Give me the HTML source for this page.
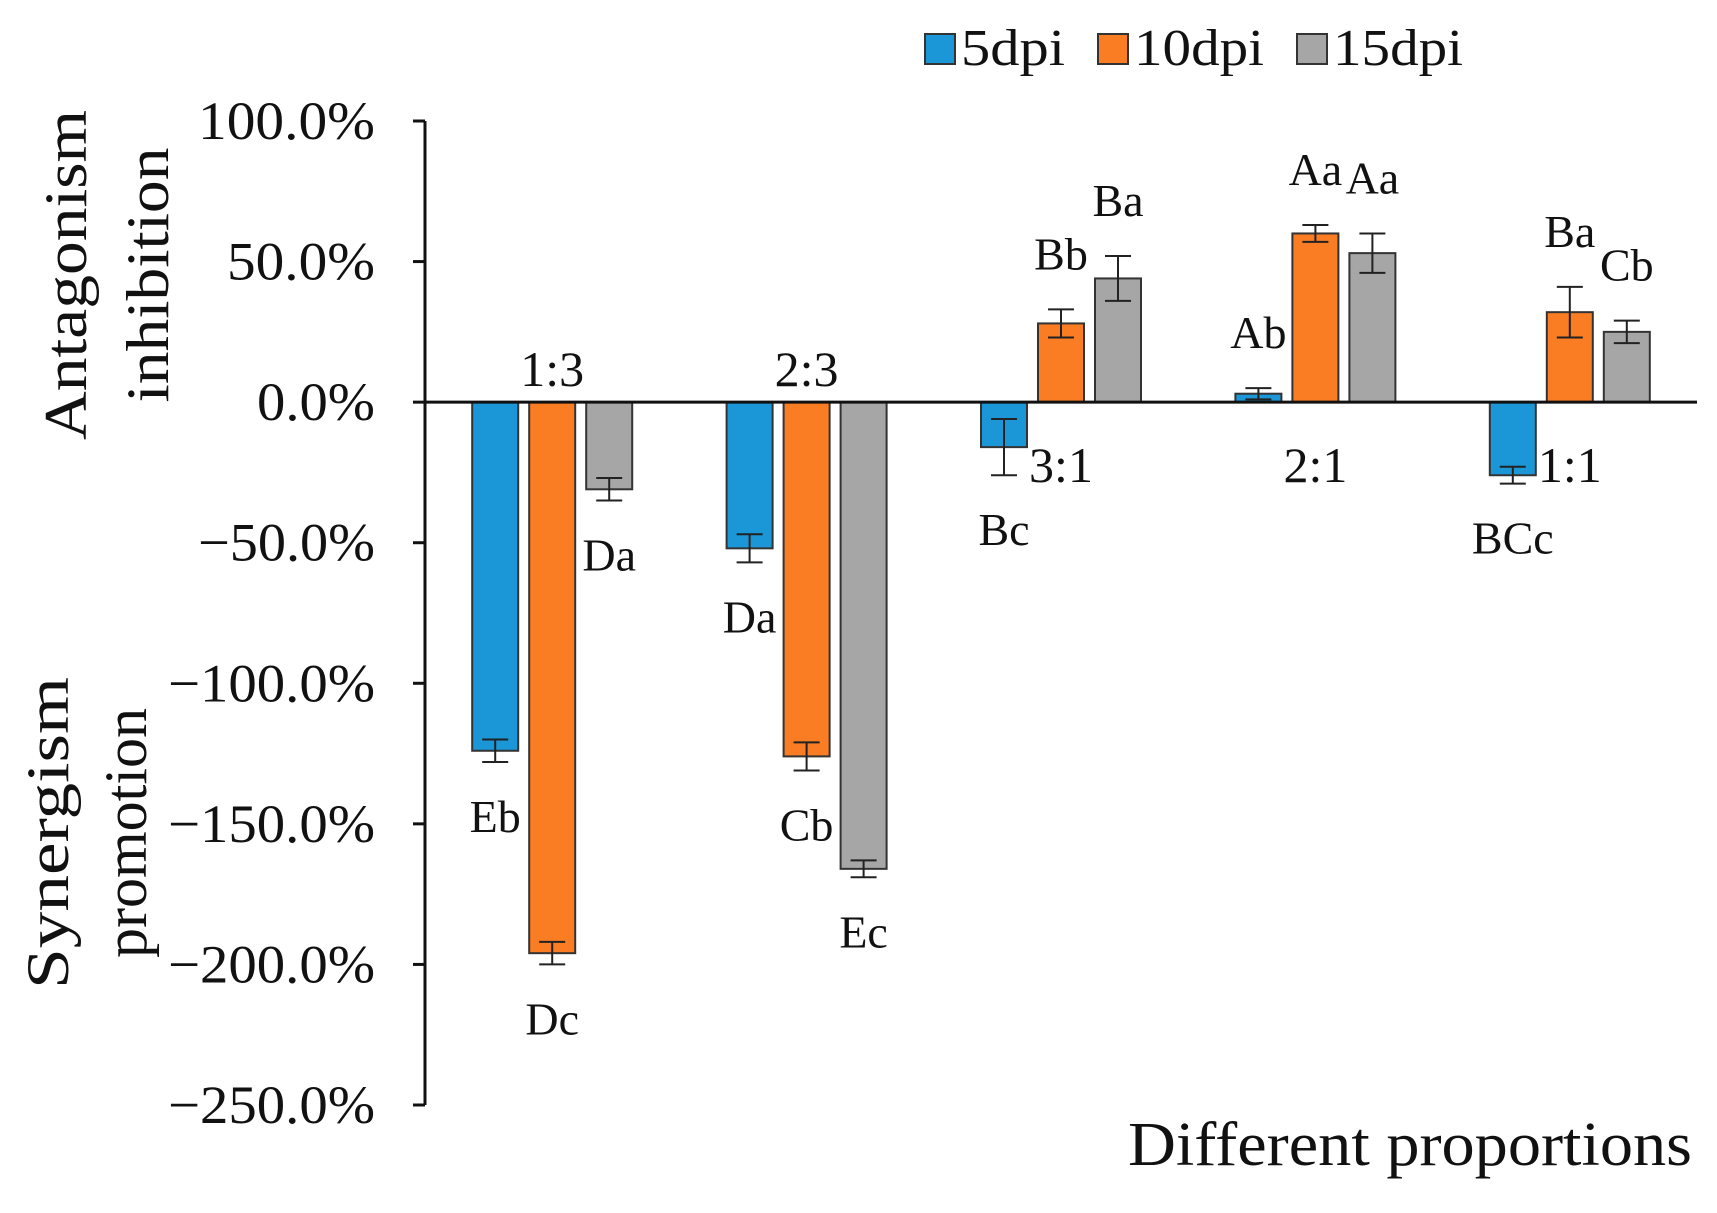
<!DOCTYPE html>
<html><head><meta charset="utf-8"><style>html,body{margin:0;padding:0;background:#fff}svg{display:block}text{font-family:"Liberation Serif",serif;fill:#111}</style></head>
<body>
<svg id="chart" width="1717" height="1213" viewBox="0 0 1717 1213" xmlns="http://www.w3.org/2000/svg"></svg>
<script>
const categories = ["1:3","2:3","3:1","2:1","1:1"];
const seriesNames = ["5dpi","10dpi","15dpi"];
const v5 = [-124,-52,-16,3,-26];
const v10 = [-196,-126,28,60,32];
const v15 = [-31,-166,44,53,25];
const e5 = [4,5,10,2,3];
const e10 = [4,5,5,3,9];
const e15 = [4,3,8,7,4];
const l5 = ["Eb","Da","Bc","Ab","BCc"];
const l10 = ["Dc","Cb","Bb","Aa","Ba"];
const l15 = ["Da","Ec","Ba","Aa","Cb"];
const yTicks = [100,50,0,-50,-100,-150,-200,-250];
const colors = ["#1b96d6","#fb7d23","#a6a6a6"];
const NS="http://www.w3.org/2000/svg", svg=document.getElementById('chart');
const X0=425,X1=1697,Y0=121,Y1=1105;
const y=v=>Y0+(100-v)*(Y1-Y0)/350;
const band=(X1-X0)/categories.length;
const cx=i=>X0+band*(i+0.5);
function mk(t,a,txt){const e=document.createElementNS(NS,t);for(const k in a)e.setAttribute(k,a[k]);if(txt!==undefined)e.textContent=txt;svg.appendChild(e);return e;}
let ax=mk('line',{x1:X0,y1:Y0,x2:X0,y2:Y1,stroke:'#111','stroke-width':3});

yTicks.forEach(t=>{
 let l=mk('line',{x1:X0-12,y1:y(t),x2:X0,y2:y(t),stroke:'#111','stroke-width':3});
 
 const s=(t<0?'\u2212'+(-t):t)+'.0%';
 let tx=mk('text',{x:X0-50,y:y(t)+18,'text-anchor':'end','font-size':54,textLength:Math.round(s.length*29.5),lengthAdjust:'spacingAndGlyphs'},s);
 
});
const series=[[v5,e5,l5],[v10,e10,l10],[v15,e15,l15]];
const bw=46, off=57;
series.forEach((s,si)=>{
 s[0].forEach((v,i)=>{
  const xc=cx(i)+(si-1)*off;
  const top=Math.min(y(v),y(0)),h=Math.abs(y(v)-y(0));
  let r=mk('rect',{x:xc-bw/2,y:top,width:bw,height:h,fill:colors[si],stroke:'#333','stroke-width':2});
  
  const ey1=y(v+s[1][i]),ey2=y(v-s[1][i]);
  let g=mk('path',{d:`M${xc},${ey1}V${ey2}M${xc-13},${ey1}H${xc+13}M${xc-13},${ey2}H${xc+13}`,stroke:'#222','stroke-width':2,fill:'none'});
  
  const ly=v>=0?ey1-40:ey2+70;
  let lt=mk('text',{x:xc,y:ly,'text-anchor':'middle','font-size':46},s[2][i]);
  
 });
});
let xa=mk('line',{x1:X0,y1:y(0),x2:X1,y2:y(0),stroke:'#111','stroke-width':3});

categories.forEach((c,i)=>{
 const above=v10[i]<0;
 let t=mk('text',{x:cx(i),y:above?y(0)-16:y(0)+80,'text-anchor':'middle','font-size':50},c);
 
});
let t1=mk('text',{x:0,y:0,'text-anchor':'middle','font-size':60,textLength:330,lengthAdjust:'spacingAndGlyphs',transform:'translate(86,275) rotate(-90)'},'Antagonism');

let t2=mk('text',{x:0,y:0,'text-anchor':'middle','font-size':60,textLength:255,lengthAdjust:'spacingAndGlyphs',transform:'translate(168,275) rotate(-90)'},'inhibition');

let t3=mk('text',{x:0,y:0,'text-anchor':'middle','font-size':60,textLength:312,lengthAdjust:'spacingAndGlyphs',transform:'translate(68,833) rotate(-90)'},'Synergism');

let t4=mk('text',{x:0,y:0,'text-anchor':'middle','font-size':60,textLength:250,lengthAdjust:'spacingAndGlyphs',transform:'translate(146,833) rotate(-90)'},'promotion');

let xt=mk('text',{x:1692,y:1165,'text-anchor':'end','font-size':62,textLength:564,lengthAdjust:'spacingAndGlyphs'},'Different proportions');

const legX=[925,1098,1297];
const legW=[104,130,130];
seriesNames.forEach((n,i)=>{
 let r=mk('rect',{x:legX[i],y:34,width:30,height:30,fill:colors[i],stroke:'#333','stroke-width':2});
 
 let t=mk('text',{x:legX[i]+36,y:65,'font-size':52,textLength:legW[i],lengthAdjust:'spacingAndGlyphs'},n);
 
});
</script>
</body></html>
